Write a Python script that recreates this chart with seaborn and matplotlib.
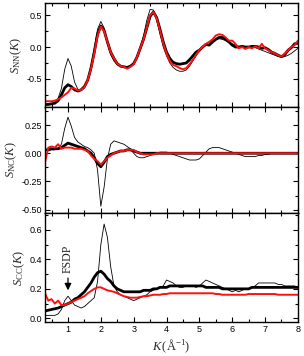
import numpy as np
import pandas as pd
import seaborn as sns
import matplotlib
matplotlib.use("Agg")
import matplotlib.pyplot as plt
from matplotlib.ticker import MultipleLocator, AutoMinorLocator, FormatStrFormatter

sns.set_theme(style="ticks")
plt.rcParams['font.family'] = ['Liberation Sans', 'DejaVu Sans']
plt.rcParams['mathtext.fontset'] = 'custom'
plt.rcParams['mathtext.rm'] = 'Liberation Serif'
plt.rcParams['mathtext.it'] = 'Liberation Serif:italic'

# K grid (1/Angstrom), 0.3 .. 8.0
K = [round(0.3 + 0.1 * i, 1) for i in range(78)]

# S_NN(K)
snn_thin = [-0.90, -0.90, -0.89, -0.87, -0.80, -0.65, -0.35, -0.18, -0.30, -0.55,
            -0.66, -0.68, -0.64, -0.52, -0.30, -0.02, 0.28, 0.40, 0.30, 0.05,
            -0.12, -0.22, -0.28, -0.30, -0.31, -0.32, -0.30, -0.26, -0.15, 0.00,
            0.18, 0.42, 0.59, 0.58, 0.42, 0.20, 0.00, -0.14, -0.25, -0.32,
            -0.36, -0.38, -0.38, -0.36, -0.30, -0.22, -0.14, -0.07, 0.00, 0.05,
            0.08, 0.10, 0.12, 0.13, 0.12, 0.10, 0.07, 0.05, 0.03, 0.01,
            0.00, 0.00, 0.00, 0.00, -0.01, -0.03, -0.05, -0.07, -0.09, -0.11,
            -0.13, -0.15, -0.16, -0.15, -0.13, -0.10, -0.06, -0.02]
snn_thick = [-0.90, -0.90, -0.89, -0.88, -0.84, -0.75, -0.64, -0.59, -0.62, -0.67,
             -0.69, -0.67, -0.62, -0.52, -0.33, -0.08, 0.20, 0.33, 0.26, 0.08,
             -0.08, -0.18, -0.26, -0.30, -0.31, -0.32, -0.30, -0.26, -0.16, -0.02,
             0.12, 0.30, 0.48, 0.55, 0.46, 0.28, 0.08, -0.08, -0.18, -0.24,
             -0.26, -0.27, -0.26, -0.25, -0.20, -0.14, -0.08, -0.05, 0.00, 0.04,
             0.03, 0.08, 0.12, 0.15, 0.15, 0.12, 0.08, 0.03, 0.00, 0.00,
             0.01, 0.00, 0.00, 0.01, 0.01, 0.00, -0.02, -0.01, -0.04, -0.08,
             -0.10, -0.13, -0.15, -0.12, -0.05, -0.01, 0.05, 0.06]
snn_red = [-0.85, -0.85, -0.85, -0.84, -0.82, -0.79, -0.75, -0.71, -0.64, -0.65,
           -0.68, -0.67, -0.63, -0.52, -0.34, -0.10, 0.18, 0.32, 0.25, 0.08,
           -0.08, -0.18, -0.26, -0.30, -0.31, -0.34, -0.31, -0.27, -0.16, -0.02,
           0.12, 0.30, 0.50, 0.55, 0.45, 0.26, 0.06, -0.10, -0.22, -0.28,
           -0.30, -0.33, -0.35, -0.33, -0.27, -0.20, -0.12, -0.05, 0.00, 0.05,
           0.08, 0.12, 0.18, 0.20, 0.19, 0.15, 0.10, 0.10, 0.05, -0.02,
           0.00, -0.03, 0.00, -0.02, 0.01, -0.02, 0.05, -0.02, -0.05, -0.08,
           -0.10, -0.13, -0.15, -0.10, -0.05, 0.00, 0.03, 0.10]

# S_NC(K)
snc_thin = [0.02, 0.03, 0.03, 0.03, 0.04, 0.08, 0.22, 0.32, 0.24, 0.14,
            0.10, 0.08, 0.06, 0.05, 0.03, 0.00, -0.15, -0.47, -0.30, -0.05,
            0.08, 0.11, 0.10, 0.09, 0.08, 0.06, 0.04, 0.00, -0.03, -0.04,
            -0.04, -0.03, -0.02, -0.01, 0.00, 0.01, 0.01, 0.01, 0.00, -0.01,
            -0.02, -0.03, -0.04, -0.05, -0.06, -0.06, -0.06, -0.05, -0.02, 0.01,
            0.04, 0.05, 0.05, 0.05, 0.04, 0.03, 0.02, 0.01, 0.00, -0.01,
            -0.02, -0.03, -0.03, -0.03, -0.03, -0.02, -0.02, -0.01, -0.01, 0.00,
            0.00, 0.00, 0.00, 0.00, 0.00, 0.00, 0.00, 0.00]
snc_thick = [0.03, 0.03, 0.04, 0.04, 0.04, 0.05, 0.07, 0.09, 0.08, 0.07,
             0.06, 0.05, 0.04, 0.02, 0.00, -0.04, -0.09, -0.12, -0.08, -0.03,
             -0.01, 0.00, 0.01, 0.02, 0.02, 0.03, 0.03, 0.02, 0.01, 0.00,
             0.00, 0.00, 0.00, 0.00, 0.00, 0.00, 0.00, 0.00, 0.00, 0.00,
             0.00, 0.00, 0.00, 0.00, 0.00, 0.00, 0.00, 0.00, 0.00, 0.00,
             0.00, 0.00, 0.00, 0.00, 0.00, 0.00, 0.00, 0.00, 0.00, 0.00,
             0.00, 0.00, 0.00, 0.00, 0.00, 0.00, 0.00, 0.00, 0.00, 0.00,
             0.00, 0.00, 0.00, 0.00, 0.00, 0.00, 0.00, 0.00]
snc_red = [-0.08, 0.05, 0.06, 0.05, 0.08, 0.04, 0.05, 0.05, 0.05, 0.04,
           0.04, 0.04, 0.03, 0.02, -0.02, -0.05, -0.07, -0.10, -0.07, -0.04,
           -0.02, 0.00, 0.01, 0.02, 0.02, 0.03, 0.03, 0.03, 0.01, 0.00,
           -0.01, -0.01, -0.01, -0.01, 0.00, 0.00, 0.00, 0.00, 0.00, 0.00,
           0.00, 0.00, 0.00, 0.00, 0.00, 0.00, 0.00, 0.00, 0.00, 0.00,
           0.00, 0.00, 0.00, 0.00, 0.00, 0.00, 0.00, 0.00, 0.00, 0.00,
           0.00, 0.00, 0.00, 0.00, 0.00, 0.00, 0.00, 0.00, 0.00, 0.00,
           0.00, 0.00, 0.00, 0.00, 0.00, 0.00, 0.00, 0.00]

# S_CC(K)
scc_thin = [0.02, 0.02, 0.02, 0.02, 0.03, 0.06, 0.12, 0.15, 0.12, 0.09,
            0.08, 0.07, 0.08, 0.10, 0.12, 0.14, 0.25, 0.50, 0.64, 0.55,
            0.35, 0.22, 0.18, 0.16, 0.15, 0.14, 0.13, 0.12, 0.13, 0.14,
            0.15, 0.16, 0.18, 0.19, 0.20, 0.21, 0.22, 0.26, 0.25, 0.24,
            0.22, 0.21, 0.21, 0.22, 0.22, 0.22, 0.21, 0.22, 0.24, 0.26,
            0.25, 0.24, 0.23, 0.22, 0.21, 0.20, 0.19, 0.18, 0.19, 0.18,
            0.19, 0.20, 0.20, 0.21, 0.22, 0.24, 0.24, 0.24, 0.24, 0.24,
            0.24, 0.23, 0.23, 0.22, 0.22, 0.22, 0.22, 0.21]
scc_thick = [0.05, 0.055, 0.06, 0.065, 0.07, 0.08, 0.09, 0.10, 0.11, 0.13,
             0.14, 0.16, 0.18, 0.21, 0.24, 0.28, 0.31, 0.32, 0.30, 0.27,
             0.25, 0.22, 0.20, 0.19, 0.18, 0.18, 0.18, 0.18, 0.18, 0.18,
             0.19, 0.19, 0.19, 0.20, 0.20, 0.21, 0.21, 0.21, 0.22, 0.22,
             0.22, 0.22, 0.22, 0.22, 0.22, 0.22, 0.22, 0.22, 0.22, 0.21,
             0.21, 0.21, 0.21, 0.21, 0.20, 0.20, 0.20, 0.20, 0.20, 0.20,
             0.20, 0.20, 0.20, 0.21, 0.21, 0.21, 0.21, 0.21, 0.21, 0.21,
             0.21, 0.21, 0.21, 0.21, 0.21, 0.21, 0.21, 0.21]
scc_red = [0.17, 0.12, 0.13, 0.10, 0.12, 0.09, 0.09, 0.10, 0.11, 0.12,
           0.13, 0.14, 0.15, 0.17, 0.185, 0.20, 0.21, 0.21, 0.20, 0.19,
           0.185, 0.18, 0.17, 0.16, 0.15, 0.145, 0.14, 0.14, 0.14, 0.145,
           0.15, 0.15, 0.155, 0.16, 0.16, 0.16, 0.165, 0.165, 0.17, 0.17,
           0.17, 0.17, 0.17, 0.17, 0.17, 0.17, 0.17, 0.17, 0.17, 0.17,
           0.17, 0.17, 0.165, 0.165, 0.16, 0.16, 0.16, 0.16, 0.16, 0.16,
           0.16, 0.16, 0.165, 0.165, 0.165, 0.165, 0.165, 0.165, 0.165, 0.165,
           0.165, 0.16, 0.16, 0.16, 0.16, 0.16, 0.16, 0.16]

panels = [
    (snn_thin, snn_thick, snn_red, r'$S_{\rm NN}(K)$', (-0.94, 0.69), 0.5, '%.1f'),
    (snc_thin, snc_thick, snc_red, r'$S_{\rm NC}(K)$', (-0.53, 0.41), 0.25, '%.2f'),
    (scc_thin, scc_thick, scc_red, r'$S_{\rm CC}(K)$', (-0.025, 0.715), 0.2, '%.1f'),
]

fig = plt.figure(figsize=(3.04, 3.56), dpi=100)
bounds = [(0.6994, 0.2922), (0.4017, 0.2977), (0.0955, 0.3062)]
axes = []
for (bot, h) in bounds:
    axes.append(fig.add_axes([0.148, bot, 0.832, h]))

for ax, (thin, thick, red, lab, ylim, step, fmt) in zip(axes, panels):
    sns.lineplot(x=K, y=thin, ax=ax, color='black', lw=0.6, estimator=None, sort=False)
    sns.lineplot(x=K, y=thick, ax=ax, color='black', lw=2.0, estimator=None, sort=False)
    sns.lineplot(x=K, y=red, ax=ax, color='#ff1010', lw=1.4, estimator=None, sort=False)
    ax.set_xlim(0.3, 8.0)
    ax.set_ylim(*ylim)
    ax.xaxis.set_major_locator(MultipleLocator(1))
    ax.xaxis.set_minor_locator(MultipleLocator(0.5))
    ax.yaxis.set_major_locator(MultipleLocator(step))
    ax.yaxis.set_minor_locator(AutoMinorLocator(2))
    ax.yaxis.set_major_formatter(FormatStrFormatter(fmt))
    ax.tick_params(which='both', direction='in', top=True, right=True,
                   colors='black', labelsize=6.5, width=0.8, pad=2)
    ax.tick_params(which='major', length=3.5)
    ax.tick_params(which='minor', length=2)
    for s in ax.spines.values():
        s.set_linewidth(1.0)
        s.set_color('black')
    ax.set_ylabel(lab, fontsize=9, labelpad=2)
    if ax is not axes[-1]:
        ax.set_xticklabels([])
    ax.set_xlabel('')

axes[-1].set_xlabel(r'$K\,(\mathrm{\AA}^{-1})$', fontsize=9, labelpad=3)
axes[-1].annotate('FSDP', xy=(1.0, 0.19), xytext=(1.0, 0.305),
                  fontsize=8.5, family='Liberation Serif', rotation=90,
                  ha='center', va='bottom',
                  arrowprops=dict(arrowstyle='-|>', color='black', lw=0.9,
                                  mutation_scale=10, shrinkA=1, shrinkB=0))

fig.savefig('out.png', dpi=100)
